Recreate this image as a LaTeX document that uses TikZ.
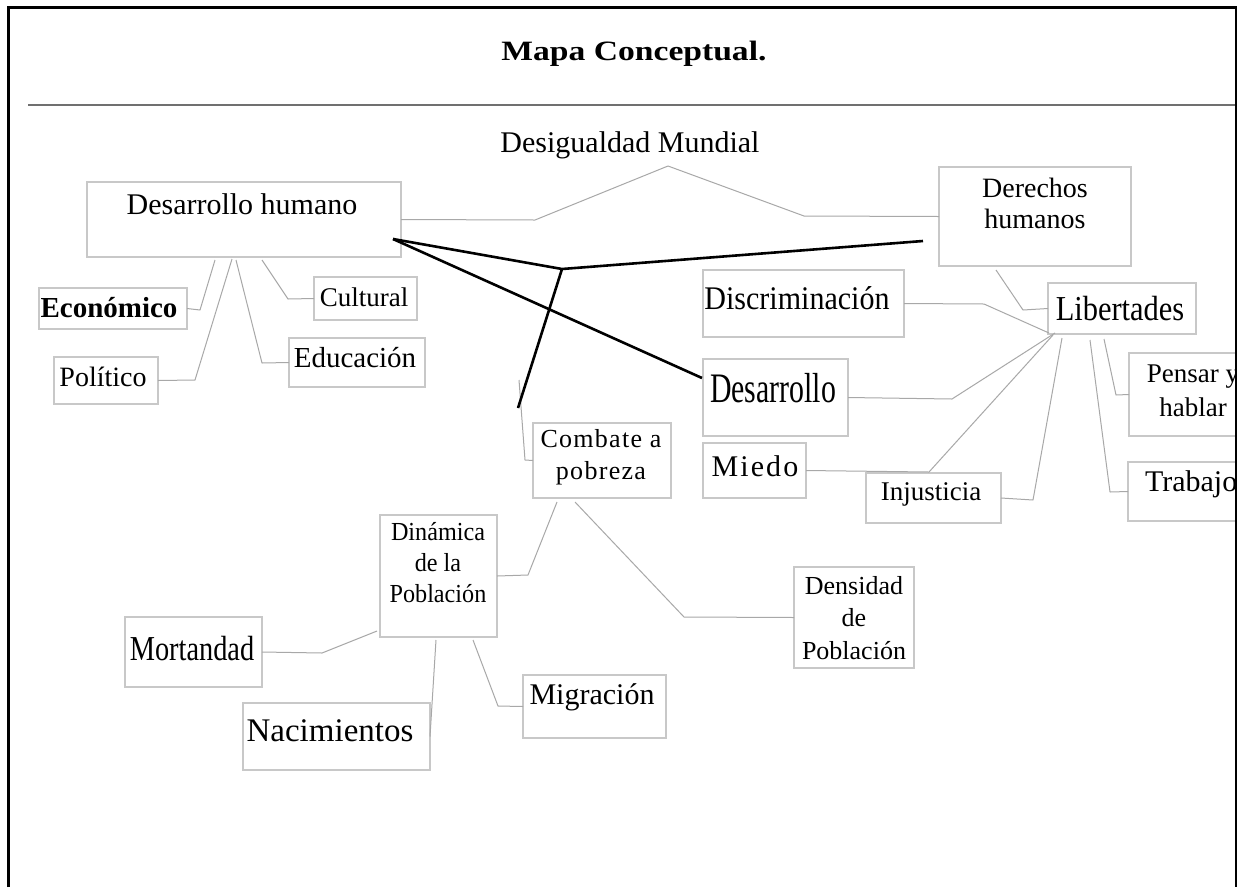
\documentclass[tikz,border=0pt]{standalone}
\usepackage{fontspec}
\usepackage{graphicx}
\setmainfont{Liberation Serif}
\newfontfamily\lspA[LetterSpace=7]{Liberation Serif}
\newfontfamily\lspB[LetterSpace=5]{Liberation Serif}
\usetikzlibrary{fit}
\definecolor{boxgray}{HTML}{C8C8C8}
\definecolor{linegray}{HTML}{A8A8A8}
\definecolor{rulegray}{HTML}{707070}
\newcommand\fsz[2]{\fontsize{#1}{#2}\selectfont}
\begin{document}
\begin{tikzpicture}[x=1pt,y=-1pt,
  bx/.style={draw=boxgray,line width=1.3pt,inner sep=0pt,outer sep=0pt,rectangle},
  tx/.style={inner sep=0pt,outer sep=0pt,align=center,text=black},
  conn/.style={draw=linegray,line width=1pt,line join=round},
  heavy/.style={draw=black,line width=2.6pt,line join=round}]
\useasboundingbox (0,0) rectangle (1237,887);
\fill[white] (0,0) rectangle (1237,887);

% header
\node[tx,font=\fsz{28}{30}\bfseries] (title) at (634,54) {\scalebox{1.2}[1]{Mapa Conceptual.}};
\draw[rulegray,line width=2.5pt] (28,105) -- (1237,105);

\begin{scope}
\clip (0,0) rectangle (1235,887);
% boxes
\node[bx,fit={(87,182)(401,257)}] (dh) {};
\node[bx,fit={(314,277)(417,320)}] (cult) {};
\node[bx,fit={(289,338)(425,387)}] (edu) {};
\node[bx,fit={(39,288)(187,329)}] (eco) {};
\node[bx,fit={(54,357)(158,404)}] (pol) {};
\node[bx,fit={(939,167)(1131,266)}] (der) {};
\node[bx,fit={(703,270)(904,337)}] (dis) {};
\node[bx,fit={(703,359)(848,436)}] (desa) {};
\node[bx,fit={(1048,283)(1196,334)}] (lib) {};
\node[bx,fit={(703,443)(806,498)}] (mie) {};
\node[bx,fit={(866,473)(1001,523)}] (inj) {};
\node[bx,fit={(1129,353)(1257,436)}] (pen) {};
\node[bx,fit={(1128,462)(1260,521)}] (tra) {};
\node[bx,fit={(533,423)(671,498)}] (com) {};
\node[bx,fit={(380,515)(497,637)}] (din) {};
\node[bx,fit={(794,567)(914,668)}] (den) {};
\node[bx,fit={(523,675)(666,738)}] (mig) {};
\node[bx,fit={(243,703)(430,770)}] (nac) {};
\node[bx,fit={(125,617)(262,687)}] (mor) {};

% texts
\node[tx,font=\fsz{30}{34}] (desig) at (630,145) {Desigualdad Mundial};
\node[tx,font=\fsz{30}{34}] (dht) at (242,204) {Desarrollo humano};
\node[tx,font=\fsz{27}{30}] (cultt) at (364,297) {Cultural};
\node[tx,font=\fsz{29}{32}] (edut) at (355,358) {Educación};
\node[tx,font=\fsz{29}{32}\bfseries] (ecot) at (109,308) {Económico};
\node[tx,font=\fsz{28}{32}] (polt) at (103,377) {Político};
\node[tx,font=\fsz{28}{31}] (dert) at (1035,203) {Derechos\\humanos};
\node[tx,font=\fsz{33}{36}] (dist) at (797,298) {\scalebox{0.91}[1]{Discriminación}};
\node[tx,font=\fsz{42}{46}] (desat) at (773,388) {\scalebox{0.71}[1]{Desarrollo}};
\node[tx,font=\fsz{35}{38}] (libt) at (1120,309) {\scalebox{0.87}[1]{Libertades}};
\node[tx,font=\fsz{30}{34}\lspA] (miet) at (755,466) {Miedo};
\node[tx,font=\fsz{27}{30}] (injt) at (931,494) {Injusticia};
\node[tx,font=\fsz{27}{34}] (pent) at (1193,391) {Pensar y\\hablar};
\node[tx,font=\fsz{30}{34},anchor=west] (trat) at (1145,484) {Trabajo};
\node[tx,font=\fsz{26}{32}\lspB] (comt) at (601,457) {Combate a\\pobreza};
\node[tx,font=\fsz{26}{31}] (dint) at (438,563) {\scalebox{0.93}[1]{Dinámica}\\\scalebox{0.93}[1]{de la}\\\scalebox{0.93}[1]{Población}};
\node[tx,font=\fsz{26}{32.5}] (dent) at (854,618) {Densidad\\de\\Población};
\node[tx,font=\fsz{30}{34}] (migt) at (592,697) {Migración};
\node[tx,font=\fsz{33}{36}] (nact) at (330,731) {Nacimientos};
\node[tx,font=\fsz{35}{38}] (mort) at (192,649) {\scalebox{0.81}[1]{Mortandad}};

% connector points
\coordinate (dmB) at (535,220);
\coordinate (dmT) at (668,166);
\coordinate (dmR) at (804,216);
\coordinate (c1) at (215,260); \coordinate (c1b) at (200,310);
\coordinate (c2) at (232,259); \coordinate (c2b) at (195,380);
\coordinate (c3) at (236,260); \coordinate (c3b) at (262,363);
\coordinate (c4) at (262,260); \coordinate (c4b) at (288,299);
\coordinate (l1) at (996,270); \coordinate (l1b) at (1023,310);
\coordinate (l2) at (984,304); \coordinate (l2e) at (1049,333);
\coordinate (l3) at (952,399); \coordinate (l3e) at (1055,333);
\coordinate (l4) at (929,472); \coordinate (l4e) at (1053,335);
\coordinate (l5) at (1033,500); \coordinate (l5e) at (1062,338);
\coordinate (l6) at (1104,339); \coordinate (l6b) at (1116,395);
\coordinate (l7) at (1090,340); \coordinate (l7b) at (1110,492);
\coordinate (p1) at (519,380); \coordinate (p1b) at (525,460);
\coordinate (p2) at (557,502); \coordinate (p2b) at (528,575);
\coordinate (p3) at (575,502); \coordinate (p3b) at (684,617);
\coordinate (d1) at (473,640); \coordinate (d1b) at (498,706);
\coordinate (d2) at (436,640);
\coordinate (d3) at (377,631); \coordinate (d3b) at (322,653);

% gray connectors
\draw[conn] (dh.east) -- (dmB) -- (dmT) -- (dmR) -- (der.west);
\draw[conn] (c1) -- (c1b) -- (eco.east);
\draw[conn] (c2) -- (c2b) -- (pol.east);
\draw[conn] (c3) -- (c3b) -- (edu.west);
\draw[conn] (c4) -- (c4b) -- (cult.west);
\draw[conn] (l1) -- (l1b) -- (lib.west);
\draw[conn] (dis.east) -- (l2) -- (l2e);
\draw[conn] (desa.east) -- (l3) -- (l3e);
\draw[conn] (mie.east) -- (l4) -- (l4e);
\draw[conn] (inj.east) -- (l5) -- (l5e);
\draw[conn] (l6) -- (l6b) -- (pen.west);
\draw[conn] (l7) -- (l7b) -- (tra.west);
\draw[conn] (p1) -- (p1b) -- (com.west);
\draw[conn] (p2) -- (p2b) -- (din.east);
\draw[conn] (p3) -- (p3b) -- (den.west);
\draw[conn] (d1) -- (d1b) -- (mig.west);
\draw[conn] (d2) -- (nac.east);
\draw[conn] (d3) -- (d3b) -- (mor.east);

% heavy black lines
\coordinate (hA) at (393,239);
\coordinate (hJ) at (562,269);
\coordinate (hD) at (923,241);
\coordinate (hC) at (518,408);
\coordinate (hE) at (702,378);
\draw[heavy] (hA) -- (hJ) -- (hD);
\draw[heavy] (hJ) -- (hC);
\draw[heavy] (hA) -- (hE);
\end{scope}

% frame
\draw[black,line width=3pt] (8,887) -- (8,7) -- (1236,7) -- (1236,887);
\end{tikzpicture}
\end{document}
